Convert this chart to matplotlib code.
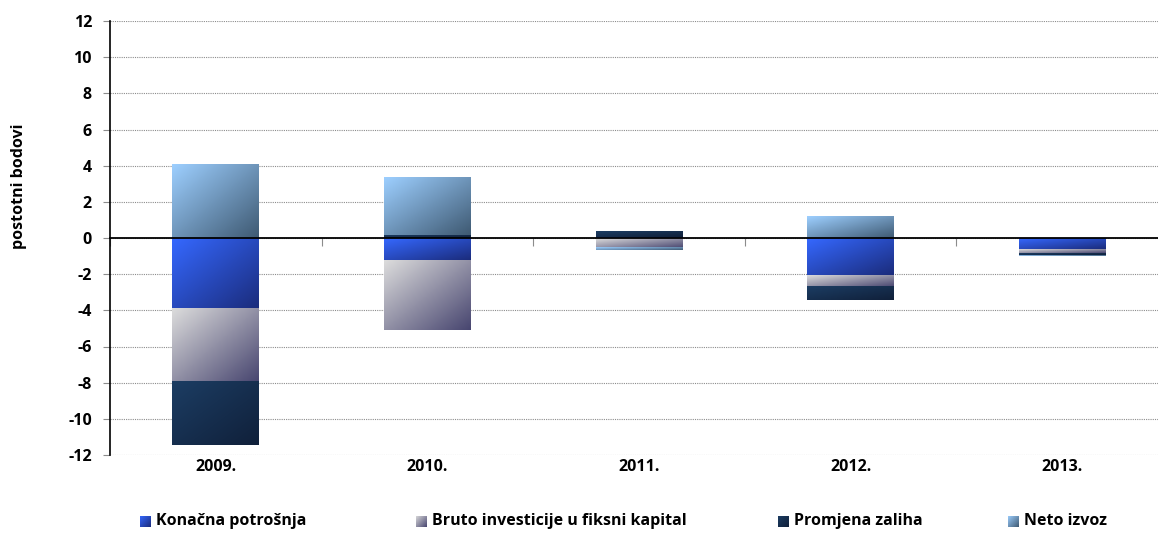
import numpy as np
import matplotlib
matplotlib.use('Agg')
import matplotlib.pyplot as plt
from matplotlib.colors import LinearSegmentedColormap

plt.rcParams['font.family'] = ['Open Sans', 'DejaVu Sans']
plt.rcParams['font.weight'] = 'bold'
plt.rcParams['axes.unicode_minus'] = False

years = ['2009.', '2010.', '2011.', '2012.', '2013.']
series_names = ['Konačna potrošnja', 'Bruto investicije u fiksni kapital',
                'Promjena zaliha', 'Neto izvoz']
konacna = [-3.90, -1.20, 0.08, -2.03, -0.59]
bruto = [-4.05, -3.87, -0.55, -0.66, -0.22]
promjena = [-3.52, 0.18, 0.32, -0.72, -0.11]
neto = [4.05, 3.16, -0.14, 1.18, -0.05]

# top-left / bottom-right colours of each gradient fill
grad_colors = [('#3568ff', '#1b2c7c'),
               ('#dcdcdc', '#484670'),
               ('#1c3d63', '#10203a'),
               ('#9dcfff', '#3f5a73')]


def grad_image(cmap, n=64):
    u = np.linspace(0, 1, n)
    t = (u[None, :] + u[:, None]) / 2
    return cmap(t)


fig = plt.figure(figsize=(11.58, 5.48), dpi=100)
ax = fig.add_axes([110 / 1158, 1 - 455 / 548, 1058 / 1158, 434 / 548])

x = np.arange(len(years))
width = 0.41
pos = np.zeros(len(years))
neg = np.zeros(len(years))
cmaps = []
for name, vals, (c1, c2) in zip(series_names, [konacna, bruto, promjena, neto], grad_colors):
    vals = np.array(vals)
    bottom = np.where(vals >= 0, pos, neg)
    cmap = LinearSegmentedColormap.from_list(name, [c1, c2])
    cmaps.append(cmap)
    bars = ax.bar(x, vals, width, bottom=bottom, facecolor='none', edgecolor='none', zorder=3)
    img = grad_image(cmap)
    for b in bars:
        x0, y0 = b.get_x(), b.get_y()
        w, h = b.get_width(), b.get_height()
        ylo, yhi = min(y0, y0 + h), max(y0, y0 + h)
        ax.imshow(img, extent=(x0, x0 + w, ylo, yhi), origin='upper',
                  aspect='auto', zorder=3, interpolation='bilinear')
    pos = pos + np.where(vals >= 0, vals, 0)
    neg = neg + np.where(vals < 0, vals, 0)

ax.set_xlim(-0.5, len(years) - 0.5)
ax.set_ylim(-12, 12)
ax.set_yticks(np.arange(-12, 13, 2))
ax.yaxis.grid(True, linestyle=(0, (1, 1)), color='#8c8c8c', linewidth=0.8)
ax.set_axisbelow(True)
ax.tick_params(axis='y', length=5, color='#8c8c8c', pad=8, labelsize=11.5)

for s in ['top', 'right']:
    ax.spines[s].set_visible(False)
ax.spines['left'].set_color('black')
ax.spines['left'].set_linewidth(1.2)
ax.spines['bottom'].set_position(('data', 0))
ax.spines['bottom'].set_color('black')
ax.spines['bottom'].set_linewidth(1.3)
ax.spines['bottom'].set_zorder(4)
ax.set_xticks(np.arange(-0.5, len(years), 1.0))
ax.set_xticklabels([])
ax.tick_params(axis='x', length=6, color='#8c8c8c', direction='out')

sec = ax.secondary_xaxis('bottom')
sec.set_xticks(x, years)
sec.tick_params(length=0, pad=3, labelsize=11.5)
sec.spines['bottom'].set_visible(False)

fig.text(19 / 1158, 1 - 186 / 548, 'postotni bodovi', rotation=90,
         ha='center', va='center', fontsize=11.5, fontweight='bold')

# legend drawn by hand to keep gradient swatches
leg_x = [140, 416, 778, 1008]
leg_tx = [156, 432, 794, 1024]
leg_y = 521
sw = 11
for lx, tx, name, cmap in zip(leg_x, leg_tx, series_names, cmaps):
    sax = fig.add_axes([lx / 1158, 1 - (leg_y + sw / 2) / 548, sw / 1158, sw / 548])
    sax.imshow(grad_image(cmap), aspect='auto', interpolation='bilinear')
    sax.axis('off')
    fig.text(tx / 1158, 1 - leg_y / 548, name, ha='left', va='center',
             fontsize=11.5, fontweight='bold')

fig.savefig('out.png', dpi=100)
